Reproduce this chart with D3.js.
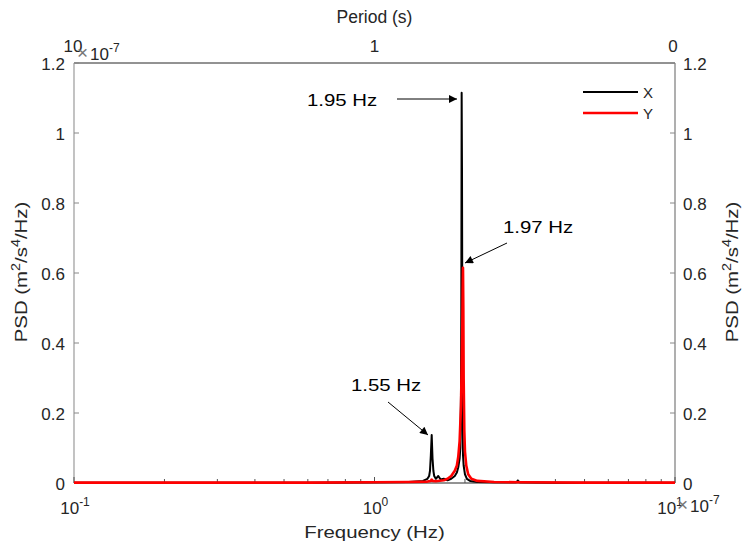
<!DOCTYPE html>
<html>
<head>
<meta charset="utf-8">
<script src="https://cdn.jsdelivr.net/npm/d3@7"></script>
<style>
  html, body { margin: 0; padding: 0; background: #fff; }
  svg text { font-family: "Liberation Sans", Arial, sans-serif; fill: #262626; }
</style>
</head>
<body>
<svg id="chart" width="746" height="549"></svg>
<script>
// Frequency (Hz) and PSD (in units of 1e-7 m^2/s^4/Hz) for the X direction
const freqX = [0.1, 0.3, 0.6, 1.0, 1.3, 1.45, 1.5, 1.52, 1.53, 1.54, 1.55, 1.56, 1.57, 1.58, 1.6, 1.63, 1.66, 1.7, 1.75, 1.8, 1.85, 1.88, 1.9, 1.92, 1.93, 1.94, 1.945, 1.95, 1.955, 1.96, 1.965, 1.97, 1.98, 2.0, 2.03, 2.08, 2.2, 2.5, 2.95, 3.0, 3.05, 4, 6, 10];
const psdX  = [0.001, 0.001, 0.001, 0.002, 0.003, 0.006, 0.012, 0.02, 0.035, 0.08, 0.137, 0.07, 0.035, 0.02, 0.012, 0.02, 0.01, 0.012, 0.008, 0.012, 0.02, 0.03, 0.045, 0.07, 0.1, 0.25, 0.5, 1.115, 0.9, 0.45, 0.15, 0.08, 0.05, 0.025, 0.012, 0.006, 0.003, 0.002, 0.002, 0.006, 0.002, 0.001, 0.001, 0.001];

// Frequency (Hz) and PSD (1e-7 m^2/s^4/Hz) for the Y direction
const freqY = [0.1, 0.3, 0.6, 1.0, 1.3, 1.5, 1.54, 1.55, 1.56, 1.6, 1.7, 1.75, 1.8, 1.85, 1.88, 1.9, 1.92, 1.94, 1.95, 1.96, 1.965, 1.97, 1.975, 1.98, 1.99, 2.0, 2.02, 2.05, 2.1, 2.2, 2.5, 3, 5, 10];
const psdY  = [0.001, 0.001, 0.001, 0.002, 0.003, 0.004, 0.006, 0.01, 0.006, 0.005, 0.008, 0.012, 0.02, 0.035, 0.05, 0.075, 0.12, 0.22, 0.33, 0.45, 0.55, 0.615, 0.5, 0.3, 0.15, 0.09, 0.05, 0.025, 0.012, 0.006, 0.003, 0.002, 0.001, 0.001];

const yTicks = [0, 0.2, 0.4, 0.6, 0.8, 1, 1.2];
const xTickExps = [-1, 0, 1];
const periodTickLabels = ["10", "1", "0"];

const series = [
  { name: "X", freq: freqX, psd: psdX, color: "#000000", width: 2 },
  { name: "Y", freq: freqY, psd: psdY, color: "#ff0000", width: 2.6 }
];

const annotations = [
  { text: "1.95 Hz", tx: 307, ty: 106, from: [397, 99], to: [457, 99] },
  { text: "1.97 Hz", tx: 503, ty: 233, from: [507, 243], to: [465, 263] },
  { text: "1.55 Hz", tx: 351, ty: 391, from: [388, 402], to: [428, 435] }
];

const M = { left: 74, top: 63, right: 675, bottom: 483 };
const svg = d3.select("#chart");

const x = d3.scaleLog().domain([0.1, 10]).range([M.left, M.right]);
const y = d3.scaleLinear().domain([0, 1.2]).range([M.bottom, M.top]);

const fs = 17;      // tick labels
const wide = 1.2;   // horizontal stretch of titles and annotations

// arrowhead marker
svg.append("defs").append("marker")
  .attr("id", "arrow").attr("viewBox", "0 0 10 10")
  .attr("refX", 10).attr("refY", 5)
  .attr("markerWidth", 11).attr("markerHeight", 8)
  .attr("markerUnits", "userSpaceOnUse")
  .attr("orient", "auto")
  .append("path").attr("d", "M0,0 L10,5 L0,10 Z").attr("fill", "#000");

// plot box
svg.append("line").attr("x1", M.left).attr("x2", M.right).attr("y1", M.top).attr("y2", M.top)
  .attr("stroke", "#262626").attr("stroke-width", 1);
svg.append("line").attr("x1", M.left).attr("x2", M.left).attr("y1", M.top).attr("y2", M.bottom)
  .attr("stroke", "#9a9a9a").attr("stroke-width", 1.2);
svg.append("line").attr("x1", M.right).attr("x2", M.right).attr("y1", M.top).attr("y2", M.bottom)
  .attr("stroke", "#7a7a7a").attr("stroke-width", 1.2);
svg.append("line").attr("x1", M.left).attr("x2", M.right).attr("y1", M.bottom).attr("y2", M.bottom)
  .attr("stroke", "#262626").attr("stroke-width", 1);

// bottom log ticks (inward)
const gt = svg.append("g");
x.ticks().forEach(v => {
  const major = Math.abs(Math.log10(v) - Math.round(Math.log10(v))) < 1e-9;
  gt.append("line").attr("x1", x(v)).attr("x2", x(v))
    .attr("y1", M.bottom).attr("y2", M.bottom - (major ? 6 : 4))
    .attr("stroke", "#555").attr("stroke-width", 1);
});
// y ticks (inward) on both sides
yTicks.forEach(v => {
  gt.append("line").attr("x1", M.left).attr("x2", M.left + 5).attr("y1", y(v)).attr("y2", y(v))
    .attr("stroke", "#888").attr("stroke-width", 1);
  gt.append("line").attr("x1", M.right).attr("x2", M.right - 5).attr("y1", y(v)).attr("y2", y(v))
    .attr("stroke", "#888").attr("stroke-width", 1);
});

// series lines
const line = d3.line().x(d => x(d[0])).y(d => y(d[1]));
series.forEach(s => {
  svg.append("path")
    .datum(s.freq.map((f, i) => [f, s.psd[i]]))
    .attr("d", line)
    .attr("fill", "none")
    .attr("stroke", s.color)
    .attr("stroke-width", s.width)
    .attr("stroke-linejoin", "round");
});

// y tick labels, left and right
yTicks.forEach(v => {
  svg.append("text").attr("x", M.left - 9).attr("y", y(v) + 6.5)
    .attr("text-anchor", "end").attr("font-size", fs).text(d3.format("~g")(v));
  svg.append("text").attr("x", M.right + 8).attr("y", y(v) + 6.5)
    .attr("text-anchor", "start").attr("font-size", fs).text(d3.format("~g")(v));
});

// x tick labels (powers of ten)
xTickExps.forEach(e => {
  const t = svg.append("text").attr("x", x(Math.pow(10, e)) - (e === 1 ? 5 : -1)).attr("y", 514)
    .attr("text-anchor", "middle").attr("font-size", fs);
  t.append("tspan").text("10");
  t.append("tspan").attr("dy", -8).attr("font-size", 12).text(String(e));
});

// top (period) tick labels
periodTickLabels.forEach((lab, i) => {
  const px = [M.left - 1, x(1), M.right - 2][i];
  svg.append("text").attr("x", px).attr("y", 52)
    .attr("text-anchor", "middle").attr("font-size", fs).text(lab);
});

// exponent multipliers
function multiplier(px, py) {
  svg.append("text").attr("x", px).attr("y", py - 1).attr("font-size", 19)
    .style("fill", "#777").text("×");
  const t = svg.append("text").attr("x", px + 13).attr("y", py).attr("font-size", fs);
  t.append("tspan").text("10");
  t.append("tspan").attr("dy", -8).attr("font-size", 12).text("-7");
}
multiplier(77, 60);
multiplier(677, 512);

// stretched text helper
function wideText(px, py, angle, anchor, size) {
  return svg.append("text")
    .attr("transform", `translate(${px},${py}) rotate(${angle}) scale(${wide},1)`)
    .attr("text-anchor", anchor).attr("font-size", size);
}

// axis titles
svg.append("text").attr("x", x(1)).attr("y", 23).attr("text-anchor", "middle")
  .attr("font-size", 17.5).text("Period (s)");
wideText(x(1), 538, 0, "middle", 17).text("Frequency (Hz)");

function psdTitle(cx, cy) {
  const t = wideText(cx, cy, -90, "middle", 17);
  t.append("tspan").text("PSD (m");
  t.append("tspan").attr("dy", -7).attr("font-size", 12).text("2");
  t.append("tspan").attr("dy", 7).text("/s");
  t.append("tspan").attr("dy", -7).attr("font-size", 12).text("4");
  t.append("tspan").attr("dy", 7).text("/Hz)");
}
psdTitle(27, 272);
psdTitle(738, 272);

// legend
series.forEach((s, i) => {
  const ly = 92 + i * 21;
  svg.append("line").attr("x1", 583).attr("x2", 638).attr("y1", ly).attr("y2", ly)
    .attr("stroke", s.color).attr("stroke-width", s.width);
  svg.append("text").attr("x", 643).attr("y", ly + 5.5).attr("font-size", 15).text(s.name);
});

// peak annotations
annotations.forEach(a => {
  wideText(a.tx, a.ty, 0, "start", 17).style("fill", "#000").text(a.text);
  svg.append("line").attr("x1", a.from[0]).attr("y1", a.from[1]).attr("x2", a.to[0]).attr("y2", a.to[1])
    .attr("stroke", "#000").attr("stroke-width", 1).attr("marker-end", "url(#arrow)");
});
</script>
</body>
</html>
